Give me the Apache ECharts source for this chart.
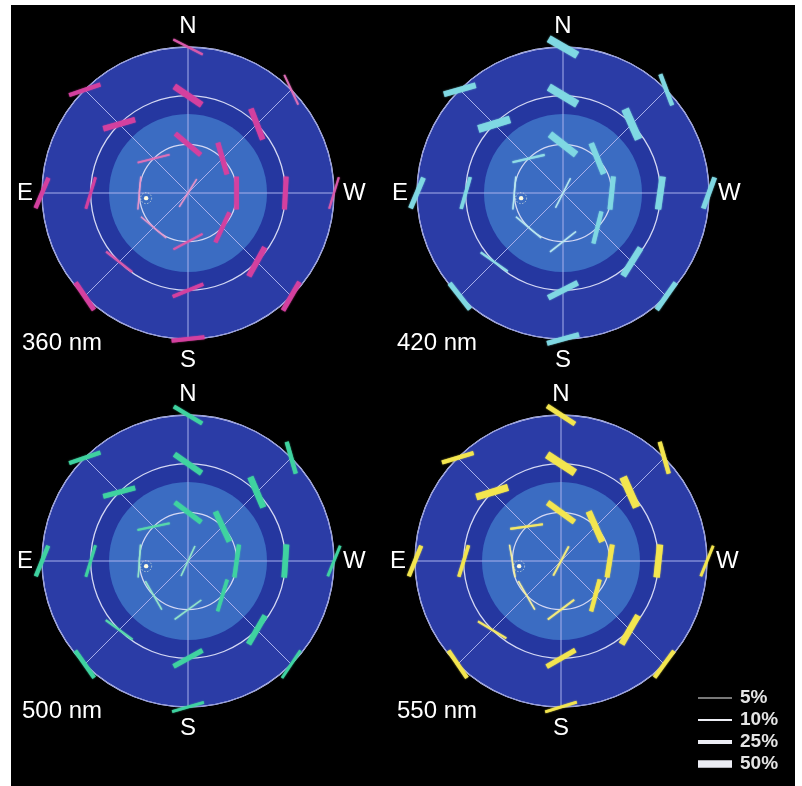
<!DOCTYPE html>
<html>
<head>
<meta charset="utf-8">
<script src="https://cdn.jsdelivr.net/npm/echarts@6/dist/echarts.min.js"></script>
<style>
  html, body { margin: 0; padding: 0; background: #fff; }
  #frame { position: absolute; left: 11px; top: 5px; width: 784px; height: 781px; background: #000; }
  #chart { position: absolute; left: 0; top: 0; width: 802px; height: 786px; }
</style>
</head>
<body>
<div id="frame"></div>
<div id="chart"></div>
<script>
// Sky polarization patterns: e-vector orientation and degree of polarization
// sampled on a grid of azimuths and zenith angles, one sky map per wavelength.

const wavelengths = ['360 nm', '420 nm', '500 nm', '550 nm'];

// Sampling grid: azimuth (deg, N = 0, E = 90) and zenith angle (deg, 90 = horizon)
const azimuths = [0, 45, 90, 135, 180, 225, 270, 315];
const ringZeniths = [90, 60, 30];
const zenithPoint = 0;

// E-vector orientation as drawn (deg from horizontal, counter-clockwise).
// Order: horizon N..NW, 60° zenith ring N..NW, 30° ring N..NW, zenith.
const orient360 = [-27, 19, 67, -56, 6, 60, 73, -65,
                   -34, 16, 73, -38, 22, 61, 87, -69,
                   -40, 14, 85, -40, 28, 65, 90, -74,
                   58];
const orient420 = [-30, 16, 67, -52, 15, 55, 70, -69,
                   -31, 17, 74, -35, 27, 58, 82, -66,
                   -38, 13, 85, -40, 38, 76, 84, -68,
                   63];
const orient500 = [-31, 19, 68, -55, 16, 56, 68, -74,
                   -35, 15, 73, -36, 29, 60, 86, -67,
                   -37, 12, 86, -60, 36, 73, 82, -65,
                   65];
const orient550 = [-33, 17, 68, -56, 17, 54, 68, -74,
                   -33, 17, 73, -31, 30, 60, 84, -66,
                   -36, 8, -80, -60, 37, 75, 81, -66,
                   62];

// Degree of polarization (%) at the same sites
const dop360 = [10, 25, 25, 30, 25, 30, 10, 8,
                40, 35, 15, 10, 20, 35, 30, 35,
                30, 8, 5, 4, 10, 25, 30, 30,
                5];
const dop420 = [50, 35, 30, 30, 30, 30, 30, 25,
                50, 50, 20, 10, 35, 40, 40, 50,
                45, 10, 5, 5, 5, 25, 30, 35,
                5];
const dop500 = [25, 25, 25, 25, 15, 15, 15, 25,
                35, 30, 15, 10, 30, 35, 35, 40,
                30, 10, 5, 5, 5, 20, 25, 35,
                5];
const dop550 = [30, 25, 25, 25, 15, 25, 15, 25,
                50, 45, 20, 10, 30, 40, 40, 50,
                35, 10, 5, 5, 8, 25, 30, 40,
                8];

// Sun position [zenith angle, azimuth]
const sunPosition = [26, 97];

// Key of the bar widths
const legendLevels = [5, 10, 25, 50];

const compassLabels = { 0: 'N', 90: 'E', 180: 'S', 270: 'W' };

// ---- layout and styles ----
const panelCenters = [[188, 193], [563, 193], [188, 561], [561, 561]];
const panelRadius = 146;
const titlePos = [[22, 331], [397, 331], [22, 699], [397, 699]];
const barColors = ['#d4409f', '#80d8e3', '#3fd3a0', '#f3e64f'];
const diskColors = { outer: '#2b3ca6', band: '#2537a0', inner: '#3b6cc2' };
const innerDiskZenith = 48.7;
const BAR_HALF = 16.5;
const FONT = '"Liberation Sans", Arial, Helvetica, sans-serif';

const orientations = [orient360, orient420, orient500, orient550];
const degrees = [dop360, dop420, dop500, dop550];

function widthOf(p) { return 0.7 + 0.14 * p; }

// Weakly polarized bars are drawn paler
function tint(hex, p) {
  const t = Math.max(0, Math.min(0.45, (12 - p) / 16));
  const n = parseInt(hex.slice(1), 16);
  const ch = [(n >> 16) & 255, (n >> 8) & 255, n & 255].map(v => Math.round(v + (255 - v) * t));
  return 'rgb(' + ch.join(',') + ')';
}

function buildSites(orient, dop) {
  const rows = [];
  let k = 0;
  ringZeniths.forEach(z => {
    azimuths.forEach(az => {
      rows.push([z, az, orient[k], dop[k]]);
      k++;
    });
  });
  rows.push([zenithPoint, 0, orient[k], dop[k]]);
  return rows;
}

function renderDisk(params, api) {
  const c = api.coord([0, 0]);
  const rOf = v => { const p = api.coord([v, 0]); return Math.hypot(p[0] - c[0], p[1] - c[1]); };
  return {
    type: 'group',
    children: [
      { type: 'circle', shape: { cx: c[0], cy: c[1], r: rOf(90) }, style: { fill: diskColors.outer } },
      { type: 'circle', shape: { cx: c[0], cy: c[1], r: rOf(60) }, style: { fill: diskColors.band } },
      { type: 'circle', shape: { cx: c[0], cy: c[1], r: rOf(innerDiskZenith) }, style: { fill: diskColors.inner } }
    ]
  };
}

function barRenderer(color) {
  return function (params, api) {
    const p = api.coord([api.value(0), api.value(1)]);
    const a = api.value(2) * Math.PI / 180;
    const dop = api.value(3);
    const c = tint(color, dop);
    const dx = Math.cos(a) * BAR_HALF, dy = -Math.sin(a) * BAR_HALF;
    return {
      type: 'line',
      shape: { x1: p[0] - dx, y1: p[1] - dy, x2: p[0] + dx, y2: p[1] + dy },
      style: { stroke: c, lineWidth: widthOf(dop), lineCap: 'butt', opacity: 0.95,
               shadowBlur: 1.5, shadowColor: c }
    };
  };
}

function renderSun(params, api) {
  const p = api.coord([api.value(0), api.value(1)]);
  return {
    type: 'group',
    children: [
      { type: 'circle', shape: { cx: p[0], cy: p[1], r: 5.5 },
        style: { fill: 'none', stroke: 'rgba(255,255,230,0.55)', lineWidth: 1, lineDash: [1.5, 1.5] } },
      { type: 'circle', shape: { cx: p[0], cy: p[1], r: 2.2 }, style: { fill: '#fffbe0' } }
    ]
  };
}

const series = [];
panelCenters.forEach((c, i) => {
  series.push({ type: 'custom', coordinateSystem: 'polar', polarIndex: i, z: 0, silent: true,
                data: [[0, 0]], renderItem: renderDisk });
  series.push({ type: 'custom', coordinateSystem: 'polar', polarIndex: i, z: 3, silent: true,
                data: buildSites(orientations[i], degrees[i]), encode: { radius: 0, angle: 1 },
                renderItem: barRenderer(barColors[i]) });
  series.push({ type: 'custom', coordinateSystem: 'polar', polarIndex: i, z: 4, silent: true,
                data: [sunPosition], encode: { radius: 0, angle: 1 }, renderItem: renderSun });
});

const legendRowY = [698, 720, 742, 764];
const legendGraphics = [];
legendLevels.forEach((p, i) => {
  legendGraphics.push({ type: 'line', silent: true,
    shape: { x1: 698, y1: legendRowY[i], x2: 732, y2: legendRowY[i] },
    style: { stroke: i === 0 ? '#a0a0a0' : '#ecedf4', lineWidth: widthOf(p) } });
  legendGraphics.push({ type: 'text', silent: true, x: 740, y: legendRowY[i],
    style: { text: p + '%', fill: '#e4e4e4', font: 'bold 19px ' + FONT,
             verticalAlign: 'middle', textVerticalAlign: 'middle', align: 'left' } });
});

const option = {
  animation: false,
  backgroundColor: 'transparent',
  title: wavelengths.map((t, i) => ({
    text: t, left: titlePos[i][0], top: titlePos[i][1], padding: 0,
    textStyle: { color: '#fff', fontSize: 24, fontWeight: 'normal', fontFamily: FONT }
  })),
  polar: panelCenters.map(c => ({ center: c, radius: panelRadius })),
  angleAxis: panelCenters.map((c, i) => ({
    polarIndex: i, type: 'value', min: 0, max: 360, interval: 45,
    startAngle: 90, clockwise: false, z: 1,
    axisLine: { show: true, lineStyle: { color: '#8f97dc', width: 1 } },
    axisTick: { show: false },
    axisLabel: { show: true, margin: 9, color: '#fff', fontSize: 24, fontFamily: FONT,
                 formatter: v => compassLabels[v] || '' },
    splitLine: { show: true, lineStyle: { color: '#a9b0ec', width: 1 } }
  })),
  radiusAxis: panelCenters.map((c, i) => ({
    polarIndex: i, type: 'value', min: 0, max: 90, interval: 30, z: 1,
    axisLine: { show: false }, axisTick: { show: false }, axisLabel: { show: false },
    splitLine: { show: true, lineStyle: { color: '#d4d8f4', width: 1.3 } }
  })),
  graphic: legendGraphics,
  series: series
};

const chart = echarts.init(document.getElementById('chart'), null, { renderer: 'canvas' });
chart.setOption(option);
</script>
</body>
</html>
